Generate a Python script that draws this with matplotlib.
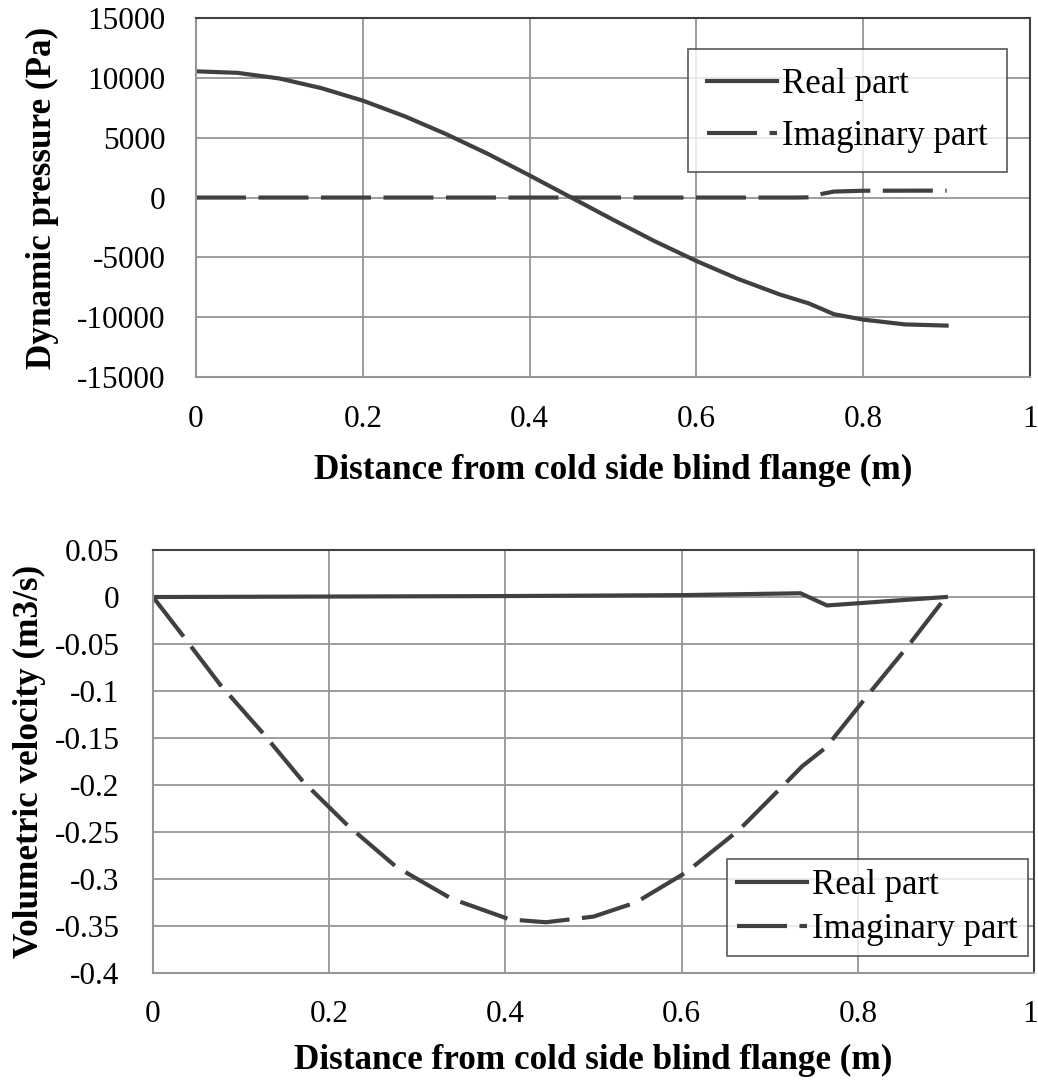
import numpy as np
import matplotlib.pyplot as plt
from matplotlib.transforms import ScaledTranslation

plt.rcParams['font.family'] = ['Liberation Serif', 'DejaVu Serif']
plt.rcParams['axes.unicode_minus'] = False

# Dynamic pressure along the tube (Pa)
x_p = [0, 0.05, 0.1, 0.15, 0.2, 0.25, 0.3, 0.35, 0.4, 0.45, 0.5, 0.55,
       0.6, 0.65, 0.7, 0.735, 0.765, 0.8, 0.85, 0.9]
p_real = [10550, 10420, 9950, 9150, 8100, 6800, 5300, 3650, 1850, 0, -1850, -3650,
          -5300, -6800, -8100, -8850, -9750, -10200, -10600, -10700]
x_p_imag = [0, 0.2, 0.4, 0.6, 0.72, 0.735, 0.75, 0.765, 0.8, 0.9]
p_imag = [0, 0, 0, 0, 0, 20, 300, 500, 570, 580]

# Volumetric velocity along the tube (m3/s)
x_u_real = [0, 0.2, 0.4, 0.6, 0.735, 0.765, 0.9]
u_real = [0, 0.0005, 0.001, 0.002, 0.004, -0.009, 0]
x_u_imag = [0, 0.033, 0.076, 0.124, 0.17, 0.221, 0.276, 0.339, 0.405, 0.446,
            0.5, 0.548, 0.605, 0.665, 0.716, 0.737, 0.764, 0.816, 0.858, 0.9]
u_imag = [0, -0.040, -0.093, -0.144, -0.196, -0.243, -0.287, -0.321, -0.343, -0.346,
          -0.340, -0.325, -0.293, -0.248, -0.200, -0.180, -0.160, -0.099, -0.051, 0]

line_col = '#404040'
grid_col = '#959595'
dash = (12, 3)
xlab = 'Distance from cold side blind flange (m)'
lab_size = 25.3

fig = plt.figure(figsize=(10.38, 10.81), dpi=100)
ax1 = fig.add_axes([0.1888, 0.6512, 0.8035, 0.3321])
ax2 = fig.add_axes([0.1474, 0.0999, 0.8487, 0.3913])


def style(ax, xpad, ypad):
    ax.set_xlim(0, 1)
    ax.set_xticks([0, 0.2, 0.4, 0.6, 0.8, 1])
    ax.set_xticklabels(['0', '0.2', '0.4', '0.6', '0.8', '1'])
    ax.grid(True, color=grid_col, linewidth=1.3)
    ax.set_axisbelow(True)
    ax.tick_params(axis='both', length=0, labelsize=22.5)
    ax.tick_params(axis='x', pad=xpad)
    ax.tick_params(axis='y', pad=ypad)
    for side in ['left', 'bottom']:
        ax.spines[side].set_color(grid_col)
        ax.spines[side].set_linewidth(1.5)
    for side in ['top', 'right']:
        ax.spines[side].set_color(line_col)
        ax.spines[side].set_linewidth(1.5)


def legend(ax, **kw):
    leg = ax.legend(fontsize=25, frameon=True, fancybox=False, handlelength=2.0,
                    handletextpad=0.15, borderaxespad=0, **kw)
    leg.get_frame().set_edgecolor(line_col)
    leg.get_frame().set_linewidth(1.3)
    return leg


# top panel: pressure
ax1.plot(x_p, p_real, color=line_col, lw=3, label='Real part')
ax1.plot(x_p_imag, p_imag, color=line_col, lw=3, dashes=dash, label='Imaginary part')
ax1.set_ylim(-15000, 15000)
ax1.set_yticks(np.arange(-15000, 15001, 5000))
style(ax1, 20, 22)
ax1.set_xlabel(xlab, fontsize=lab_size, fontweight='bold')
ax1.xaxis.set_label_coords(0.5, -0.214)
ax1.set_ylabel('Dynamic pressure (Pa)', fontsize=lab_size, fontweight='bold')
ax1.yaxis.set_label_coords(-0.164, 0.5)
legend(ax1, loc='upper right', bbox_to_anchor=(0.9724, 0.9136),
       borderpad=0.55, labelspacing=0.55)

# bottom panel: volumetric velocity
ax2.plot(x_u_real, u_real, color=line_col, lw=3, label='Real part')
ax2.plot(x_u_imag, u_imag, color=line_col, lw=3, dashes=dash, label='Imaginary part')
ax2.set_ylim(-0.4, 0.05)
ax2.set_yticks(np.arange(-0.4, 0.051, 0.05))
ax2.set_yticklabels(['-0.4', '-0.35', '-0.3', '-0.25', '-0.2', '-0.15', '-0.1', '-0.05', '0', '0.05'])
style(ax2, 19.5, 24)
# nudge the last x label so it stays inside the figure
last = ax2.get_xticklabels()[-1]
last.set_transform(last.get_transform() + ScaledTranslation(-4 / 100, 0, fig.dpi_scale_trans))
ax2.set_xlabel(xlab, fontsize=lab_size, fontweight='bold')
ax2.xaxis.set_label_coords(0.5, -0.168)
ax2.set_ylabel('Volumetric velocity (m3/s)', fontsize=lab_size, fontweight='bold')
ax2.yaxis.set_label_coords(-0.1214, 0.5)
legend(ax2, loc='lower right', bbox_to_anchor=(0.9932, 0.040),
       borderpad=0.3, labelspacing=0.3)

fig.savefig('out.png', dpi=100, facecolor='white')
